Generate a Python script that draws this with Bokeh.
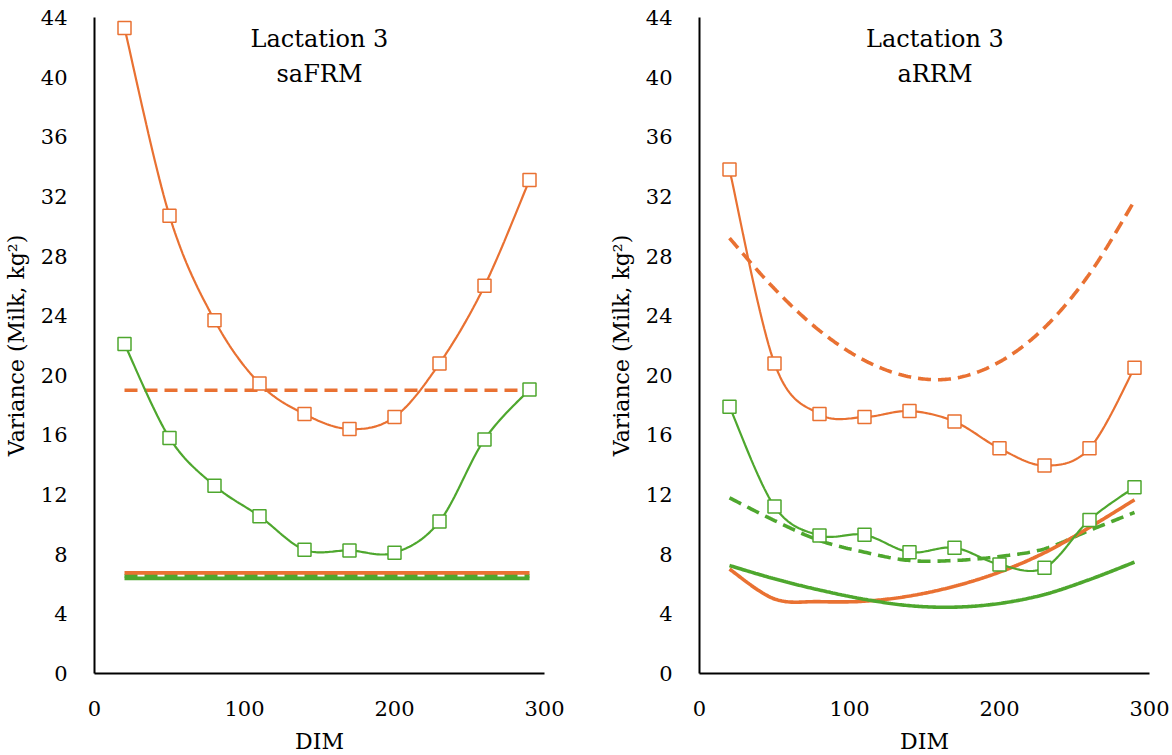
import numpy as np
from bokeh.plotting import figure
from bokeh.layouts import row
from bokeh.models import Range1d, FixedTicker
from bokeh.core.properties import value
from bokeh.embed import file_html
from bokeh.resources import INLINE

# ---------------- data ----------------
dim = [20, 50, 80, 110, 140, 170, 200, 230, 260, 290]

# Left panel: Lactation 3 saFRM
sa_orange_marker = [43.3, 30.7, 23.7, 19.45, 17.4, 16.4, 17.2, 20.8, 26.0, 33.1]
sa_green_marker = [22.1, 15.8, 12.6, 10.55, 8.3, 8.25, 8.1, 10.2, 15.7, 19.05]
sa_orange_dash = [19.0, 19.0, 19.0, 19.0, 19.0, 19.0, 19.0, 19.0, 19.0, 19.0]
sa_orange_solid = [6.75, 6.75, 6.75, 6.75, 6.75, 6.75, 6.75, 6.75, 6.75, 6.75]
sa_green_dash = [6.55, 6.55, 6.55, 6.55, 6.55, 6.55, 6.55, 6.55, 6.55, 6.55]
sa_green_solid = [6.38, 6.38, 6.38, 6.38, 6.38, 6.38, 6.38, 6.38, 6.38, 6.38]

# Right panel: Lactation 3 aRRM
ar_orange_marker = [33.8, 20.8, 17.4, 17.2, 17.6, 16.9, 15.1, 13.95, 15.1, 20.5]
ar_green_marker = [17.9, 11.2, 9.26, 9.3, 8.14, 8.43, 7.31, 7.09, 10.3, 12.5]
ar_orange_dash = [29.2, 25.8, 23.0, 21.0, 19.9, 19.8, 20.9, 23.2, 26.8, 31.7]
ar_orange_solid = [7.0, 5.0, 4.82, 4.85, 5.2, 5.85, 6.8, 8.1, 9.8, 11.65]
ar_green_dash = [11.78, 10.26, 8.92, 8.14, 7.58, 7.58, 7.85, 8.36, 9.6, 10.8]
ar_green_solid = [7.24, 6.35, 5.6, 4.98, 4.55, 4.45, 4.7, 5.3, 6.3, 7.47]

y_ticks = [0, 4, 8, 12, 16, 20, 24, 28, 32, 36, 40, 44]
x_ticks = [0, 100, 200, 300]

ORANGE = "#E97132"
GREEN = "#4EA72E"
FONT = "DejaVu Serif"


def smooth(xs, ys, n=24):
    """Catmull-Rom path through the points (like Excel smoothed lines)."""
    P = np.column_stack([np.asarray(xs, float), np.asarray(ys, float)])
    m = len(P)
    out = []
    for i in range(m - 1):
        p0 = P[i - 1] if i > 0 else P[i]
        p1 = P[i]
        p2 = P[i + 1]
        p3 = P[i + 2] if i + 2 < m else P[i + 1]
        c1 = p1 + (p2 - p0) / 6.0
        c2 = p2 - (p3 - p1) / 6.0
        t = np.linspace(0, 1, n, endpoint=(i == m - 2))[:, None]
        seg = ((1 - t) ** 3) * p1 + 3 * ((1 - t) ** 2) * t * c1 + 3 * (1 - t) * t ** 2 * c2 + t ** 3 * p2
        out.append(seg)
    out = np.vstack(out)
    return out[:, 0], out[:, 1]


def make_panel(title2, om, gm, od, osl, gd, gsl, border_left, border_right, title_x):
    p = figure(frame_width=450, frame_height=656, x_range=Range1d(0, 300), y_range=Range1d(0, 44),
               output_backend="svg", toolbar_location=None,
               min_border_left=border_left, min_border_right=border_right,
               min_border_top=17, min_border_bottom=80)
    p.outline_line_color = None
    p.grid.visible = False
    p.background_fill_color = "white"
    p.border_fill_color = "white"

    for ax in (p.xaxis[0], p.yaxis[0]):
        ax.axis_line_color = "black"
        ax.axis_line_width = 2
        ax.major_tick_line_color = None
        ax.minor_tick_line_color = None
        ax.major_label_text_font = FONT
        ax.major_label_text_font_size = "21px"
        ax.major_label_text_color = "black"
        ax.axis_label_text_font = FONT
        ax.axis_label_text_font_size = "22px"
        ax.axis_label_text_font_style = "normal"
        ax.axis_label_text_color = "black"
    p.xaxis.ticker = FixedTicker(ticks=x_ticks)
    p.yaxis.ticker = FixedTicker(ticks=y_ticks)
    p.xaxis.major_label_standoff = 21
    p.yaxis.major_label_standoff = 21
    p.xaxis.axis_label = "DIM"
    p.yaxis.axis_label = "Variance (Milk, kg²)"
    p.xaxis.axis_label_standoff = 10
    p.yaxis.axis_label_standoff = 9

    # thick lines (solid / dashed)
    for ys, col, dash in ((od, ORANGE, "13 7"), (gd, GREEN, "13 7"),
                          (osl, ORANGE, "solid"), (gsl, GREEN, "solid")):
        sx, sy = smooth(dim, ys)
        p.line(sx, sy, line_color=col, line_width=3.6, line_dash=dash)

    # thin lines with square markers
    for ys, col in ((om, ORANGE), (gm, GREEN)):
        sx, sy = smooth(dim, ys)
        p.line(sx, sy, line_color=col, line_width=2.2)
        p.scatter(dim, ys, marker="square", size=13, fill_color="white",
                  line_color=col, line_width=1.5)

    p.text(x=[title_x, title_x], y=[42.55, 40.2], text=["Lactation 3", title2],
           text_font=value(FONT), text_font_size="24px", text_align="center",
           text_baseline="middle", text_color="black")
    return p


left = make_panel("saFRM", sa_orange_marker, sa_green_marker, sa_orange_dash,
                  sa_orange_solid, sa_green_dash, sa_green_solid, 92, 45, 150)
right = make_panel("aRRM", ar_orange_marker, ar_green_marker, ar_orange_dash,
                   ar_orange_solid, ar_green_dash, ar_green_solid, 110, 22, 157)

layout = row(left, right)
open("out.html", "w").write(file_html(layout, INLINE))
